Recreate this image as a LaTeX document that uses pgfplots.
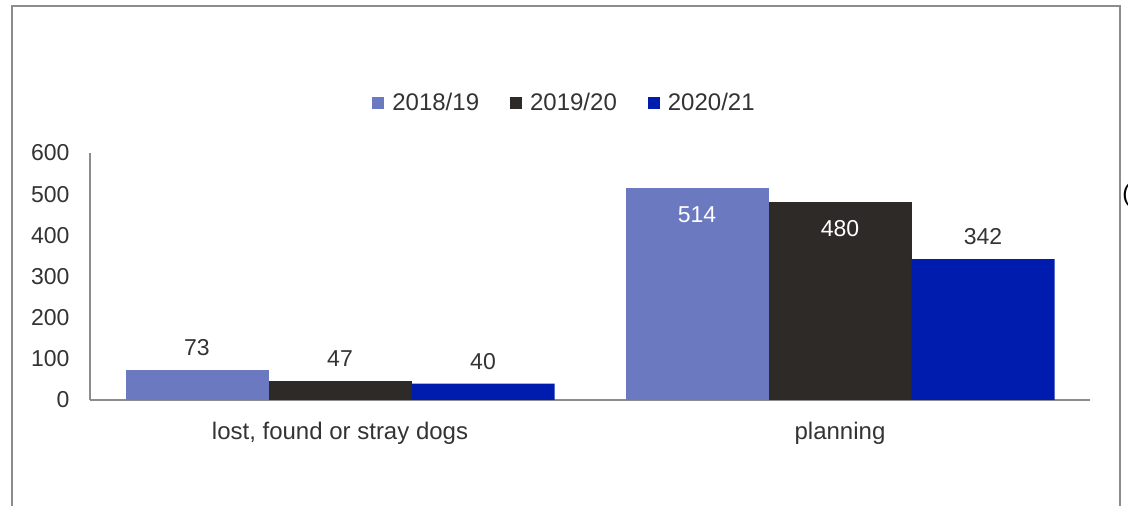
\documentclass[border=0pt]{standalone}
\usepackage{pgfplots}
\pgfplotsset{compat=1.18}
\usepackage{fontspec}
\setmainfont{Liberation Sans}

\definecolor{cA}{HTML}{6B79C1}
\definecolor{cB}{HTML}{2E2A27}
\definecolor{cC}{HTML}{001CAF}
\definecolor{txt}{HTML}{333333}
\definecolor{frm}{HTML}{8C8C8C}

\pgfplotsset{
  lab above/.style={nodes near coords,
    every node near coord/.append style={text=txt, yshift=3.6pt}},
  lab in/.style={nodes near coords,
    every node near coord/.append style={text=white, yshift=-20.8pt}},
}

\begin{document}
\begin{tikzpicture}
\path[use as bounding box, clip] (0,0) rectangle (564pt,253pt);
\draw[frm, line width=0.8pt] (6pt,-5pt) rectangle (560pt,250pt);
\node[anchor=west, inner sep=0pt, font=\fontsize{12}{14}\selectfont] at (561pt,155.5pt) {(};
\begin{axis}[
  at={(45pt,53pt)}, anchor=south west,
  scale only axis, width=500pt, height=123.5pt,
  ybar, bar width=0.286,
  xmin=-0.5, xmax=1.5, ymin=0, ymax=600,
  xtick={0,1}, xticklabels={{lost, found or stray dogs}, planning},
  ytick={0,100,...,600},
  axis x line*=bottom, axis y line*=left,
  axis line style={frm, line width=0.6pt},
  major tick length=0pt,
  tick label style={font=\fontsize{11.5}{13}\selectfont, text=txt},
  /pgf/number format/assume math mode=true,
  yticklabel style={xshift=-6.7pt},
  xticklabel style={yshift=-7.7pt, font=\fontsize{12}{14}\selectfont},
  legend style={at={(0.4755,1.2024)}, anchor=center, draw=none, fill=none,
    legend columns=-1, font=\fontsize{12}{14}\selectfont, text=txt,
    /tikz/every even column/.append style={column sep=13.5pt}},
  legend image code/.code={\fill[#1] (0pt,-3pt) rectangle (6pt,3pt); \path (8pt,0pt);},
  every node near coord/.append style={font=\fontsize{11.5}{13}\selectfont},
]
% 2018/19
\addplot[fill=cA, draw=none, bar shift=-0.286, lab above] coordinates {(0,73)};
\addplot[forget plot, fill=cA, draw=none, bar shift=-0.286, lab in] coordinates {(1,514)};
% 2019/20
\addplot[fill=cB, draw=none, bar shift=0, lab above] coordinates {(0,47)};
\addplot[forget plot, fill=cB, draw=none, bar shift=0, lab in] coordinates {(1,480)};
% 2020/21
\addplot[fill=cC, draw=none, bar shift=0.286, lab above] coordinates {(0,40) (1,342)};
\legend{2018/19, 2019/20, 2020/21}
\end{axis}
\end{tikzpicture}
\end{document}
